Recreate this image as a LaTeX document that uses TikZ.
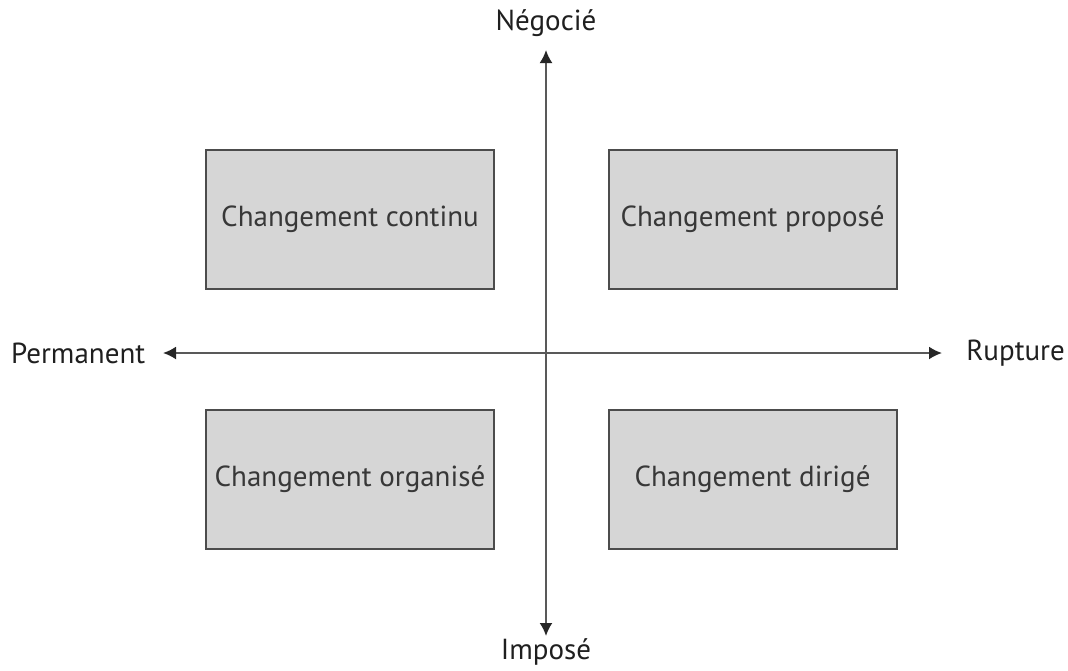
\documentclass[tikz,border=0pt]{standalone}
\usepackage{fontspec}
\setmainfont{PT Sans}
\usetikzlibrary{arrows.meta}
\begin{document}
\begin{tikzpicture}[x=1pt,y=-1pt,
  quadrant/.style={draw=black!70, line width=2pt, fill=black!16, minimum width=288pt, minimum height=139pt, inner sep=0pt, font=\fontsize{29}{33}\selectfont, text=black!78},
  axislabel/.style={font=\fontsize{29}{33}\selectfont, text=black!88, inner sep=0pt},
  axis/.style={draw=black!65, line width=2pt, {Latex[length=13pt,width=13pt,color=black!85]}-{Latex[length=13pt,width=13pt,color=black!85]}}
]
\useasboundingbox (0,0) rectangle (1068,670);
% quadrant boxes
\node[quadrant] (cc) at (350,219) {Changement continu};
\node[quadrant] (cp) at (752.5,219) {Changement proposé};
\node[quadrant] (co) at (350,479) {Changement organisé};
\node[quadrant] (cd) at (752.5,479) {Changement dirigé};
% axis labels
\node[axislabel] (neg) at (546,23) {Négocié};
\node[axislabel] (imp) at (546,652) {Imposé};
\node[axislabel, anchor=west] (perm) at (11,353) {Permanent};
\node[axislabel, anchor=east] (rup) at (1065,353) {Rupture};
% axes
\coordinate (top) at (546,50);
\coordinate (bot) at (546,636);
\coordinate (lft) at (163,353);
\coordinate (rgt) at (942,353);
\draw[axis] (top) -- (bot);
\draw[axis] (lft) -- (rgt);
\end{tikzpicture}
\end{document}
